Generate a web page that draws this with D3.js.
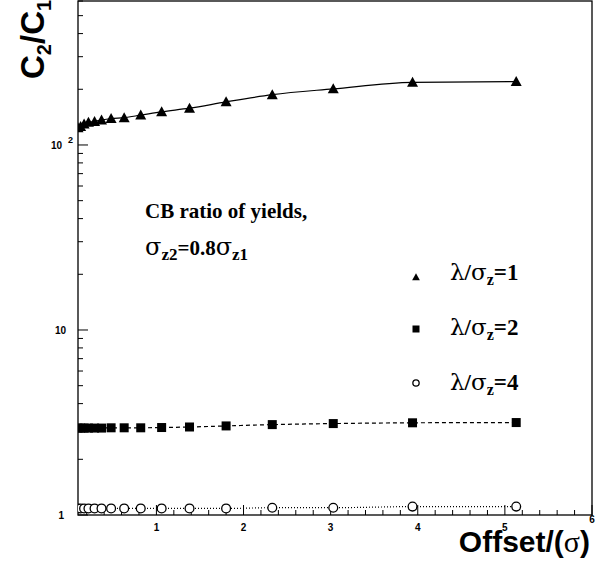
<!DOCTYPE html>
<html><head><meta charset="utf-8">
<script src="https://cdn.jsdelivr.net/npm/d3@7"></script>
<style>body{margin:0;background:#fff}svg{display:block}</style>
</head><body>
<script>
// ---- data ----
const offsets = [0.10,0.13,0.17,0.22,0.29,0.37,0.48,0.63,0.82,1.06,1.38,1.80,2.33,3.03,3.94,5.13];
const ratioL1 = [124,126,130,132.5,134,136.5,139,140.5,145,151,158,171,187,201,218,220];
const ratioL2 = [2.95,2.95,2.95,2.95,2.95,2.95,2.96,2.96,2.96,2.97,2.99,3.03,3.08,3.12,3.15,3.16];
const ratioL4 = [1.085,1.085,1.085,1.085,1.085,1.085,1.085,1.085,1.085,1.085,1.085,1.085,1.095,1.095,1.11,1.11];
const xTicks = [1,2,3,4,5,6];
const yTickLabels = [{v:1,t:"1"},{v:10,t:"10"},{v:100,t:"10",sup:"2"}];
const legendItems = [{label:"1",marker:"tri"},{label:"2",marker:"sq"},{label:"4",marker:"circ"}];

const W=597,H=561;
const svg=d3.select("body").append("svg").attr("width",W).attr("height",H);
const x=d3.scaleLinear().domain([0.1,6]).range([78,592]);
const y=d3.scaleLog().domain([1,600]).range([515,1]);
const sans="'Liberation Sans',Arial,Helvetica,sans-serif";
const serif="'Liberation Serif','Times New Roman',serif";
const greek="'DejaVu Serif','Liberation Serif',serif";

svg.append("clipPath").attr("id","clip").append("rect")
  .attr("x",78).attr("y",1).attr("width",514).attr("height",514);

// ticks x
const xMinor=d3.range(0.2,6.001,0.2).map(v=>+v.toFixed(1));
svg.append("g").selectAll("line").data(xMinor).join("line")
  .attr("x1",d=>x(d)).attr("x2",d=>x(d))
  .attr("y1",515).attr("y2",d=>Math.abs(d-Math.round(d))<1e-6?505:510)
  .attr("stroke","#000").attr("stroke-width",1);
// ticks y
const yMinor=[];
[1,10,100].forEach(b=>{for(let k=1;k<=9;k++){const v=b*k;if(v<=600)yMinor.push(v);}});
svg.append("g").selectAll("line").data(yMinor).join("line")
  .attr("x1",78).attr("x2",d=>[1,10,100].includes(d)?88:83)
  .attr("y1",d=>y(d)).attr("y2",d=>y(d))
  .attr("stroke","#000").attr("stroke-width",1);

// frame
svg.append("rect").attr("x",78).attr("y",1).attr("width",514).attr("height",514)
  .attr("fill","none").attr("stroke","#000").attr("stroke-width",1.3);

// x tick labels
svg.append("g").selectAll("text").data(xTicks).join("text")
  .attr("x",d=>x(d)).attr("y",d=>d===6?523:531)
  .attr("text-anchor","middle").attr("font-family",sans).attr("font-weight","bold")
  .attr("font-size",10).text(d=>d);
// y tick labels
svg.append("g").selectAll("text").data(yTickLabels).join("text")
  .attr("x",d=>d.sup?62:(d.v===1?64:66)).attr("y",d=>y(d.v)+4)
  .attr("text-anchor","end").attr("font-family",sans).attr("font-weight","bold")
  .attr("font-size",10).text(d=>d.t);
svg.append("g").selectAll("text").data(yTickLabels.filter(d=>d.sup)).join("text")
  .attr("x",68).attr("y",d=>y(d.v)-2)
  .attr("font-family",sans).attr("font-weight","bold").attr("font-size",9).text(d=>d.sup);

// axis titles
const xt=svg.append("text").attr("x",590).attr("y",552).attr("text-anchor","end")
  .attr("font-family",sans).attr("font-weight","bold").attr("font-size",30);
xt.append("tspan").text("Offset/(");
xt.append("tspan").attr("font-family",serif).attr("font-weight","normal").text("σ");
xt.append("tspan").text(")");

const yt=svg.append("text").attr("transform","translate(44,79) rotate(-90)")
  .attr("text-anchor","start").attr("font-family",sans).attr("font-weight","bold").attr("font-size",33);
yt.append("tspan").text("C");
yt.append("tspan").attr("font-size",20).attr("dy",7).text("2");
yt.append("tspan").attr("dy",-7).text("/C");
yt.append("tspan").attr("font-size",20).attr("dy",7).text("1");

// series
const series=[
  {vals:ratioL1,marker:"tri",dash:null},
  {vals:ratioL2,marker:"sq",dash:"4,3"},
  {vals:ratioL4,marker:"circ",dash:"1,2"}
];
const plot=svg.append("g").attr("clip-path","url(#clip)");
const line=d3.line().x(d=>x(d[0])).y(d=>y(d[1])).curve(d3.curveMonotoneX);
function drawMarker(g,type,cx,cy,s){
  if(type==="tri"){
    g.append("path").attr("d",`M${cx},${cy-s*0.55}L${cx+s*0.55},${cy+s*0.45}L${cx-s*0.55},${cy+s*0.45}Z`).attr("fill","#000");
  } else if(type==="sq"){
    g.append("rect").attr("x",cx-s/2).attr("y",cy-s/2).attr("width",s).attr("height",s).attr("fill","#000");
  } else {
    g.append("circle").attr("cx",cx).attr("cy",cy).attr("r",s/2-0.6).attr("fill","#fff").attr("stroke","#000").attr("stroke-width",1.3);
  }
}
series.forEach(s=>{
  const pts=offsets.map((o,i)=>[o,s.vals[i]]);
  plot.append("path").attr("d",line(pts)).attr("fill","none").attr("stroke","#000")
    .attr("stroke-width",1.2).attr("stroke-dasharray",s.dash);
  pts.forEach(p=>drawMarker(plot,s.marker,x(p[0]),y(p[1]),s.marker==="sq"?9:10));
});

// annotation
svg.append("text").attr("x",145).attr("y",218).attr("font-family",serif).attr("font-weight","bold")
  .attr("font-size",21).text("CB ratio of yields,");
const a2=svg.append("text").attr("x",145).attr("y",255).attr("font-family",serif).attr("font-weight","bold")
  .attr("font-size",21);
a2.append("tspan").attr("font-family",greek).attr("font-weight","normal").attr("font-size",24).text("σ");
a2.append("tspan").attr("font-size",17).attr("dy",5).text("z2");
a2.append("tspan").attr("dy",-5).text("=0.8");
a2.append("tspan").attr("font-family",greek).attr("font-weight","normal").attr("font-size",24).text("σ");
a2.append("tspan").attr("font-size",17).attr("dy",5).text("z1");

// legend
const lg=svg.append("g");
legendItems.forEach((it,i)=>{
  const cy=[277,329,383][i];
  drawMarker(lg,it.marker,416,cy,it.marker==="circ"?7.5:7);
  const t=lg.append("text").attr("x",450).attr("y",[280,335,390][i]).attr("font-family",serif)
    .attr("font-weight","bold").attr("font-size",23);
  t.append("tspan").attr("font-family",greek).attr("font-weight","normal").text("λ");
  t.append("tspan").text("/");
  t.append("tspan").attr("font-family",greek).attr("font-weight","normal").text("σ");
  t.append("tspan").attr("font-size",16).attr("dy",5).text("z");
  t.append("tspan").attr("dy",-5).text("="+it.label);
});
</script>
</body></html>
